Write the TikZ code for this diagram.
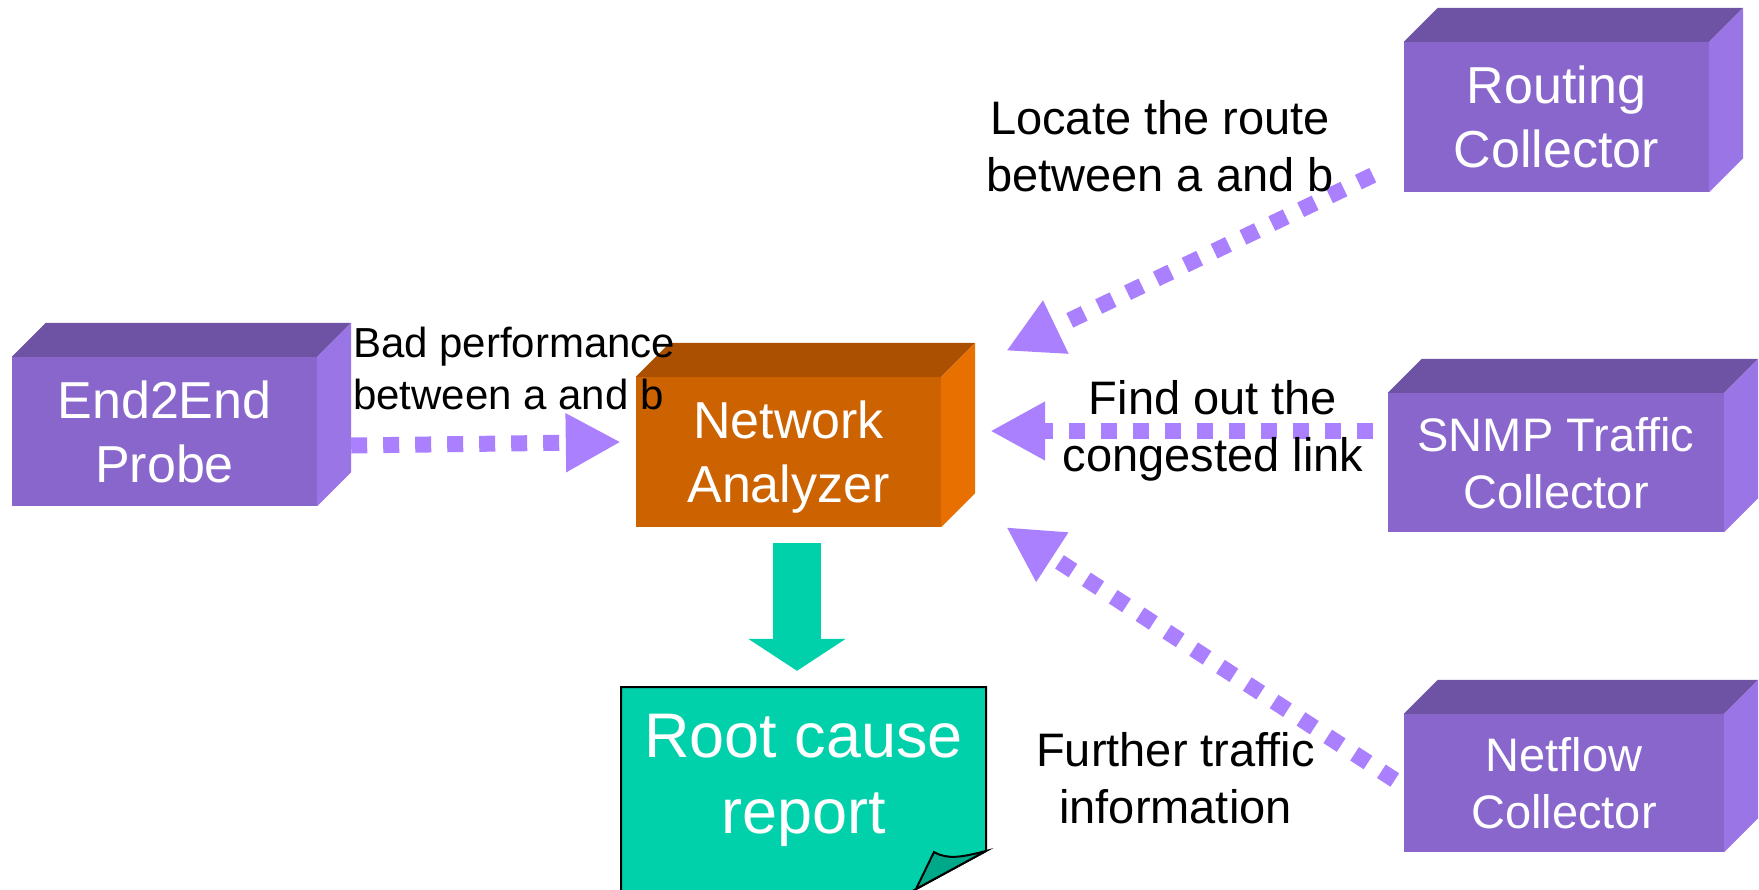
\documentclass[tikz,border=0pt]{standalone}
\usepackage{fontspec}
\setmainfont{Liberation Sans}
\usetikzlibrary{arrows.meta}

\definecolor{cubeFront}{HTML}{8966CC}
\definecolor{cubeTop}{HTML}{6E52A3}
\definecolor{cubeSide}{HTML}{9A75E6}
\definecolor{hubFront}{HTML}{CC6200}
\definecolor{hubTop}{HTML}{AA5000}
\definecolor{hubSide}{HTML}{E87000}
\definecolor{flowPurple}{HTML}{AA80FF}
\definecolor{reportTeal}{HTML}{00D1AA}
\definecolor{reportFold}{HTML}{00A88A}

\tikzset{
  cube/.style={rectangle, inner sep=0pt, fill=cubeFront, text=white, align=center,
               text depth=0pt, font=\fontsize{52}{64}\selectfont},
  smallcube/.style={cube, font=\fontsize{47}{57}\selectfont},
  flow/.style={draw=flowPurple, line width=16pt, dash pattern=on 16pt off 16pt,
               -{Triangle[length=55pt,width=55pt]}},
  lbl/.style={inner sep=0pt, align=center, font=\fontsize{47}{57}\selectfont},
}

% top and right faces of a box whose front face is the node #1
\newcommand\cubefaces[3]{%
  \fill[#2] (#1.north west) -- ++(34,-34) -- ([shift={(34,-34)}]#1.north east)
            -- (#1.north east) -- cycle;
  \fill[#3] (#1.north east) -- ++(34,-34) -- ([shift={(34,-34)}]#1.south east)
            -- (#1.south east) -- cycle;}

\begin{document}
\begin{tikzpicture}[x=1pt,y=-1pt]
\useasboundingbox (0,0) rectangle (1759,889);
\fill[white] (0,0) rectangle (1759,889);

% front faces
\node[cube, minimum width=305pt, minimum height=149pt] (e2e) at (164.5,431.5) {End2End\\Probe};
\node[cube, fill=hubFront, minimum width=305pt, minimum height=150pt] (na) at (788.5,452) {Network\\Analyzer};
\node[cube, minimum width=305pt, minimum height=150pt] (rc) at (1556.5,117) {Routing\\Collector};
\node[smallcube, minimum width=336pt, minimum height=139pt] (snmp) at (1556,462.5) {SNMP Traffic\\Collector};
\node[smallcube, minimum width=320pt, minimum height=138pt] (nf) at (1564,783) {Netflow\\Collector};

\cubefaces{e2e}{cubeTop}{cubeSide}
\cubefaces{na}{hubTop}{hubSide}
\cubefaces{rc}{cubeTop}{cubeSide}
\cubefaces{snmp}{cubeTop}{cubeSide}
\cubefaces{nf}{cubeTop}{cubeSide}

% report page with a curled corner
\begin{scope}
  \clip (0,0) rectangle (1759,889);
  \fill[reportTeal, draw=black, line width=2pt]
    (621,687) -- (986,687) -- (986,851) -- (896,900) -- (621,900) -- cycle;
  \fill[reportFold, draw=black, line width=2pt]
    (916,889) -- (934,852) .. controls (948,860) and (962,857) .. (986,851) -- cycle;
\end{scope}
\node[inner sep=0pt, text=white, align=center, font=\fontsize{63}{76}\selectfont,
      minimum width=365pt, minimum height=186pt] (report) at (803.5,780) {Root cause\\report};

% result arrow
\draw[reportTeal, line width=48pt, -{Triangle[length=32pt,width=96pt]}]
  ([shift={(8.5,16)}]na.south) -- ([shift={(-6.5,-16)}]report.north);

% data flows into the analyzer
\draw[flow] ([shift={(34,14)}]e2e.east) -- ([shift={(-15,-10)}]na.west);
\draw[flow] ([shift={(-31,-17)}]rc.south west) -- ([shift={(65,-26)}]na.north east);
\draw[flow] ([shift={(-15,-31.5)}]snmp.west) -- ([shift={(49,-21)}]na.east);
\draw[flow] ([shift={(-9,-3)}]nf.west) -- ([shift={(65,0)}]na.south east);

% flow labels
\node[lbl, align=left, anchor=west, font=\fontsize{42}{52}\selectfont] (lbad) at (353,368.7)
  {Bad performance\\between a and b};
\node[lbl] (lroute) at (1160,146.4) {Locate the route\\between a and b};
\node[lbl] (llink) at (1213,430.8) {Find out the\\congested link};
\node[lbl] (ltraffic) at (1175.5,777.9) {Further traffic\\information};
\end{tikzpicture}
\end{document}
